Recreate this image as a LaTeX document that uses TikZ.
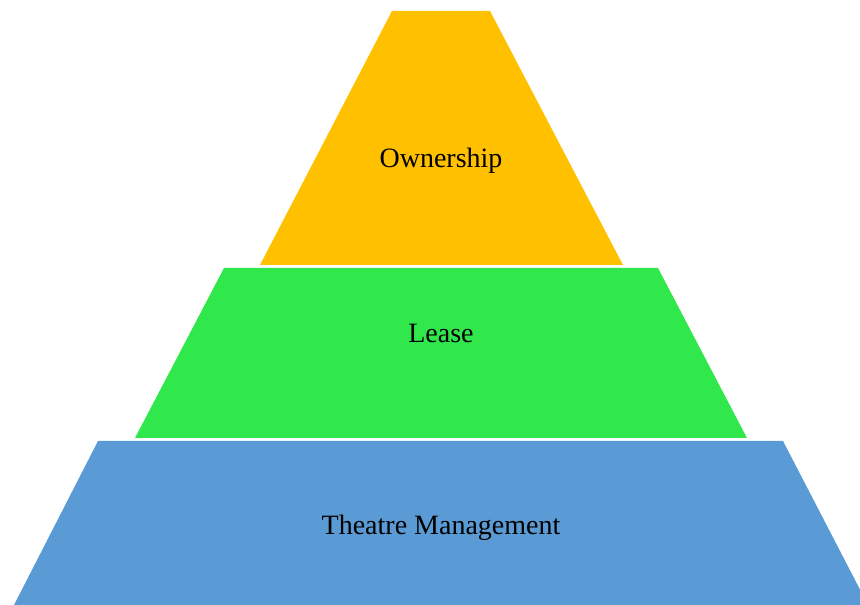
\documentclass[tikz,border=0pt]{standalone}
\usepackage{fontspec}
\setmainfont{Liberation Serif}
\definecolor{own}{HTML}{FFC000}
\definecolor{lea}{HTML}{30E84B}
\definecolor{thm}{HTML}{5B9BD5}
\begin{document}
\begin{tikzpicture}[x=1pt,y=1pt,
  lbl/.style={font=\fontsize{28}{32}\selectfont, text=black, inner sep=0pt}]
\useasboundingbox (0,0) rectangle (860,605);
\clip (0,0) rectangle (860,605);
% top: Ownership (image y 11..265)
\fill[own] (392,594) -- (490,594) -- (623,340) -- (260,340) -- cycle;
% middle: Lease (image y 268..438)
\fill[lea] (224,337) -- (658,337) -- (747,167) -- (135,167) -- cycle;
% bottom: Theatre Management (image y 441..605)
\fill[thm] (98,164) -- (783,164) -- (868,0) -- (14,0) -- cycle;
\node[lbl] (own) at (441,444) {Ownership};
\node[lbl] (lea) at (441,272) {Lease};
\node[lbl] (thm) at (441,77) {Theatre Management};
\end{tikzpicture}
\end{document}
